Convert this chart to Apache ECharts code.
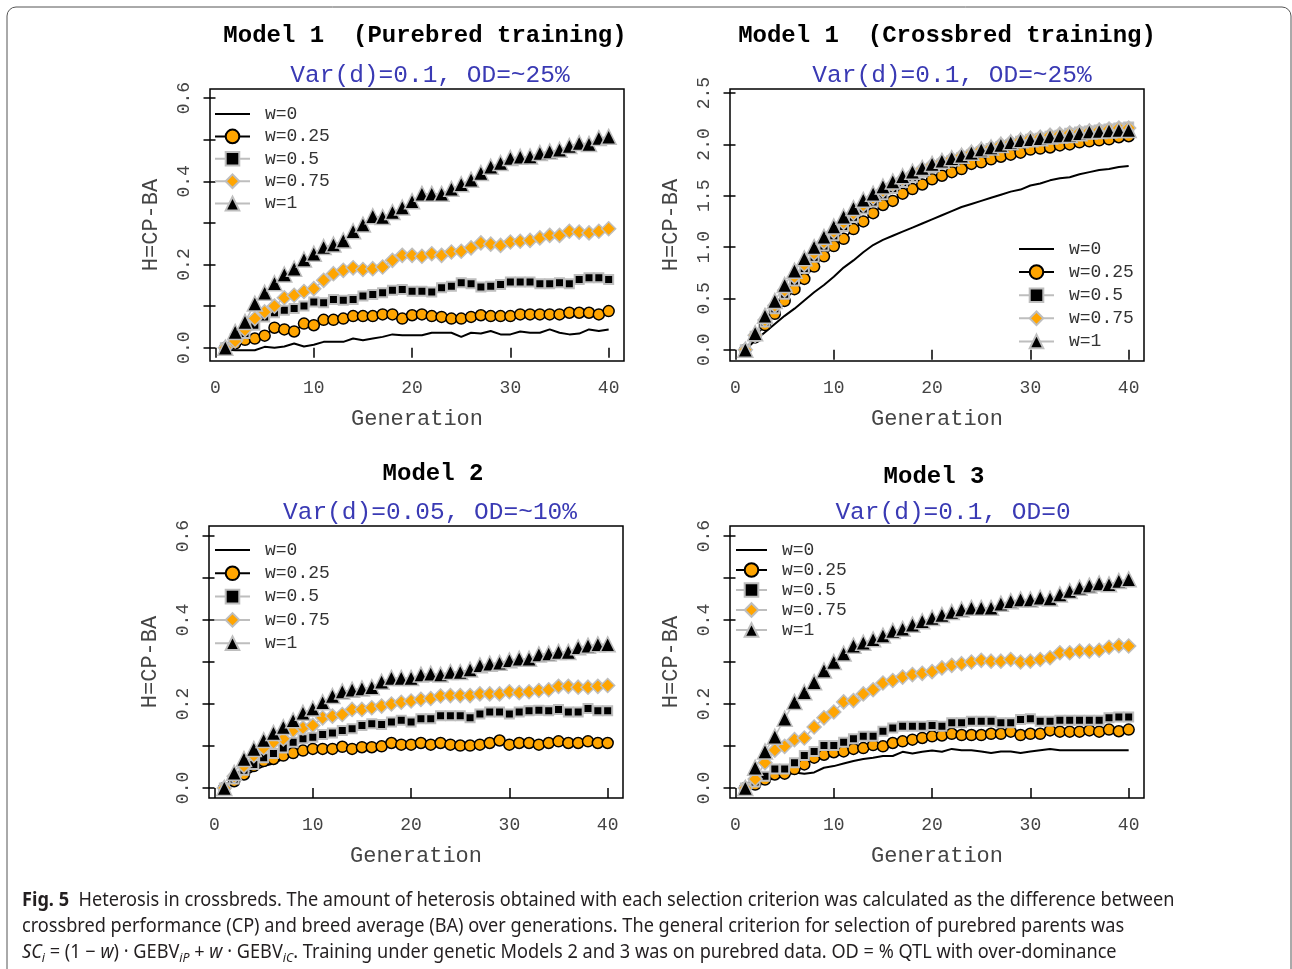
<!DOCTYPE html>
<html>
<head>
<meta charset="utf-8">
<style>
html, body { margin: 0; padding: 0; background: #fff; }
#main { width: 1292px; height: 969px; }
</style>
<script src="https://cdn.jsdelivr.net/npm/echarts@6/dist/echarts.min.js"></script>
</head>
<body>
<div id="main"></div>
<script>
// generations 1..40
const GENS = [1,2,3,4,5,6,7,8,9,10,11,12,13,14,15,16,17,18,19,20,21,22,23,24,25,26,27,28,29,30,31,32,33,34,35,36,37,38,39,40];
const SERIES_NAMES = ['w=0', 'w=0.25', 'w=0.5', 'w=0.75', 'w=1'];

// tick values
const X_TICKS = [0, 10, 20, 30, 40];
const Y_TICKS_SMALL = [0, 0.1, 0.2, 0.3, 0.4, 0.5, 0.6];
const Y_LABELS_SMALL = [0, 0.2, 0.4, 0.6];
const Y_TICKS_CROSS = [0, 0.5, 1, 1.5, 2, 2.5];

// Model 1 (Purebred training)
const pureW0 = [-0.005,-0.006,-0.006,-0.006,0.002,0,0.003,0.01,0.003,0.007,0.014,0.014,0.014,0.022,0.018,0.022,0.026,0.032,0.03,0.03,0.03,0.036,0.036,0.036,0.026,0.036,0.034,0.04,0.032,0.032,0.039,0.036,0.036,0.044,0.036,0.032,0.034,0.044,0.04,0.044];
const pureW025 = [0,0.01,0.019,0.022,0.029,0.048,0.044,0.039,0.058,0.054,0.067,0.067,0.07,0.076,0.076,0.076,0.08,0.08,0.07,0.078,0.08,0.076,0.074,0.07,0.07,0.074,0.078,0.076,0.076,0.076,0.08,0.08,0.08,0.08,0.08,0.084,0.084,0.084,0.08,0.088];
const pureW05 = [0,0.022,0.034,0.054,0.074,0.084,0.09,0.094,0.1,0.11,0.108,0.116,0.114,0.116,0.124,0.128,0.132,0.138,0.14,0.136,0.136,0.134,0.144,0.148,0.156,0.154,0.146,0.148,0.152,0.158,0.158,0.158,0.154,0.154,0.156,0.154,0.164,0.168,0.168,0.164];
const pureW075 = [0,0.016,0.043,0.07,0.086,0.1,0.12,0.126,0.135,0.142,0.162,0.178,0.186,0.192,0.188,0.19,0.194,0.21,0.222,0.222,0.22,0.226,0.222,0.23,0.232,0.24,0.252,0.249,0.246,0.254,0.256,0.258,0.264,0.27,0.27,0.28,0.278,0.276,0.28,0.286];
const pureW1 = [0,0.038,0.062,0.106,0.132,0.155,0.176,0.19,0.212,0.226,0.242,0.248,0.258,0.28,0.296,0.316,0.314,0.326,0.337,0.352,0.37,0.37,0.37,0.382,0.393,0.404,0.42,0.435,0.444,0.456,0.459,0.46,0.468,0.472,0.476,0.485,0.492,0.49,0.504,0.507];

// Model 1 (Crossbred training)
const crossW0 = [0,0.09,0.17,0.25,0.33,0.40,0.48,0.56,0.63,0.71,0.80,0.87,0.95,1.02,1.07,1.11,1.15,1.19,1.23,1.27,1.31,1.35,1.39,1.42,1.45,1.48,1.51,1.54,1.56,1.60,1.62,1.65,1.67,1.68,1.71,1.73,1.75,1.76,1.78,1.79];
const crossW025 = [0,0.12,0.24,0.35,0.475,0.59,0.69,0.81,0.91,1.01,1.08,1.175,1.25,1.33,1.41,1.45,1.52,1.565,1.61,1.66,1.695,1.73,1.76,1.81,1.826,1.855,1.88,1.90,1.92,1.95,1.96,1.97,1.99,2.00,2.02,2.03,2.04,2.05,2.07,2.08];
const crossW05 = [0,0.13,0.27,0.40,0.54,0.67,0.79,0.90,1.01,1.11,1.20,1.29,1.37,1.44,1.51,1.57,1.63,1.68,1.73,1.77,1.81,1.84,1.87,1.90,1.93,1.96,1.98,2.00,2.03,2.05,2.06,2.08,2.09,2.11,2.12,2.13,2.14,2.15,2.16,2.17];
const crossW075 = [0,0.14,0.29,0.43,0.58,0.71,0.83,0.94,1.05,1.15,1.24,1.33,1.41,1.48,1.55,1.61,1.66,1.71,1.76,1.80,1.83,1.86,1.89,1.92,1.95,1.97,2.00,2.02,2.04,2.06,2.07,2.09,2.10,2.11,2.12,2.13,2.14,2.15,2.16,2.16];
const crossW1 = [0,0.16,0.33,0.475,0.63,0.77,0.89,1.00,1.10,1.20,1.295,1.38,1.46,1.52,1.59,1.64,1.69,1.735,1.77,1.81,1.84,1.865,1.89,1.92,1.95,1.97,1.995,2.02,2.04,2.05,2.06,2.077,2.087,2.093,2.11,2.125,2.13,2.135,2.14,2.14];

// Model 2
const m2W0 = [0,0.014,0.028,0.042,0.052,0.058,0.07,0.078,0.085,0.09,0.09,0.09,0.095,0.09,0.094,0.095,0.097,0.104,0.1,0.1,0.104,0.1,0.104,0.1,0.098,0.098,0.1,0.104,0.11,0.1,0.104,0.104,0.1,0.104,0.108,0.104,0.104,0.108,0.104,0.104];
const m2W025 = [0,0.016,0.032,0.052,0.064,0.069,0.077,0.083,0.089,0.093,0.093,0.093,0.098,0.093,0.097,0.097,0.099,0.107,0.103,0.103,0.107,0.103,0.107,0.103,0.101,0.101,0.103,0.107,0.113,0.103,0.107,0.107,0.103,0.107,0.111,0.107,0.107,0.111,0.107,0.107];
const m2W05 = [0,0.021,0.042,0.056,0.072,0.082,0.095,0.109,0.117,0.121,0.127,0.131,0.137,0.141,0.149,0.153,0.151,0.157,0.161,0.157,0.165,0.165,0.172,0.172,0.172,0.167,0.176,0.181,0.181,0.176,0.181,0.184,0.185,0.184,0.187,0.181,0.181,0.189,0.184,0.184];
const m2W075 = [0,0.028,0.052,0.077,0.095,0.109,0.117,0.137,0.143,0.149,0.167,0.171,0.175,0.187,0.187,0.191,0.195,0.2,0.204,0.207,0.211,0.213,0.219,0.22,0.22,0.22,0.224,0.224,0.224,0.229,0.227,0.229,0.232,0.234,0.242,0.242,0.24,0.24,0.242,0.244];
const m2W1 = [0,0.036,0.069,0.093,0.114,0.131,0.145,0.161,0.179,0.189,0.204,0.219,0.23,0.234,0.237,0.24,0.253,0.262,0.262,0.262,0.27,0.272,0.27,0.276,0.276,0.282,0.292,0.296,0.298,0.304,0.308,0.308,0.318,0.32,0.324,0.324,0.335,0.339,0.342,0.342];

// Model 3
const m3W0 = [0,0.008,0.016,0.024,0.029,0.037,0.034,0.037,0.048,0.052,0.058,0.064,0.069,0.072,0.076,0.076,0.086,0.082,0.086,0.089,0.086,0.093,0.09,0.09,0.087,0.083,0.087,0.087,0.083,0.087,0.09,0.093,0.09,0.09,0.09,0.09,0.09,0.09,0.09,0.09];
const m3W025 = [0,0.008,0.02,0.032,0.034,0.045,0.056,0.072,0.079,0.085,0.087,0.093,0.095,0.102,0.099,0.107,0.111,0.115,0.119,0.123,0.125,0.129,0.126,0.126,0.126,0.129,0.129,0.134,0.126,0.129,0.129,0.137,0.134,0.134,0.134,0.137,0.134,0.139,0.135,0.139];
const m3W05 = [0,0.014,0.028,0.045,0.045,0.06,0.077,0.087,0.101,0.101,0.109,0.117,0.123,0.123,0.135,0.143,0.147,0.147,0.147,0.149,0.147,0.155,0.155,0.159,0.159,0.159,0.155,0.155,0.163,0.165,0.159,0.159,0.161,0.161,0.161,0.161,0.161,0.167,0.169,0.169];
const m3W075 = [0,0.021,0.06,0.09,0.099,0.115,0.119,0.145,0.167,0.181,0.205,0.208,0.224,0.234,0.25,0.256,0.264,0.27,0.273,0.277,0.286,0.292,0.296,0.3,0.304,0.302,0.302,0.306,0.3,0.302,0.306,0.31,0.322,0.322,0.326,0.326,0.328,0.335,0.339,0.338];
const m3W1 = [0,0.048,0.087,0.122,0.165,0.205,0.228,0.252,0.28,0.3,0.32,0.339,0.346,0.354,0.363,0.374,0.379,0.389,0.397,0.405,0.412,0.419,0.425,0.429,0.429,0.429,0.439,0.445,0.449,0.449,0.453,0.451,0.461,0.469,0.477,0.482,0.487,0.485,0.493,0.497];

const MONO = '"Liberation Mono", "DejaVu Sans Mono", monospace';
const ORANGE = '#ffa500';
const GRAY = '#bebebe';

// look of each w series (R style pch 21/22/23/24)
const looks = [
    { symbol: 'none', size: 0, fill: '#000', border: '#000', bw: 0, line: '#000', lw: 2 },
    { symbol: 'circle', size: 11, fill: ORANGE, border: '#000', bw: 1.5, line: '#000', lw: 1.5 },
    { symbol: 'rect', size: 9, fill: '#000', border: GRAY, bw: 2, line: GRAY, lw: 1.5 },
    { symbol: 'diamond', size: 14, fill: ORANGE, border: GRAY, bw: 1.5, line: GRAY, lw: 1.5 },
    { symbol: 'triangle', size: 15, fill: '#000', border: GRAY, bw: 1.5, line: GRAY, lw: 1.5 }
];

const panels = [
    { title: 'Model 1  (Purebred training)', sub: 'Var(d)=0.1, OD=~25%', tx: 425, ty: 36, sx: 430, sy: 76,
      grid: { left: 210, top: 89, width: 414, height: 272 }, ymin: -0.032, ymax: 0.622,
      yTicks: Y_TICKS_SMALL, yLabels: Y_LABELS_SMALL,
      legend: { left: 214, top: 105, gap: 4.4 }, rows: [pureW0, pureW025, pureW05, pureW075, pureW1] },
    { title: 'Model 1  (Crossbred training)', sub: 'Var(d)=0.1, OD=~25%', tx: 947, ty: 36, sx: 952, sy: 76,
      grid: { left: 730, top: 89, width: 414, height: 272 }, ymin: -0.11, ymax: 2.54,
      yTicks: Y_TICKS_CROSS, yLabels: Y_TICKS_CROSS,
      legend: { left: 1018, top: 240, gap: 5.1 }, rows: [crossW0, crossW025, crossW05, crossW075, crossW1] },
    { title: 'Model 2', sub: 'Var(d)=0.05, OD=~10%', tx: 433, ty: 474, sx: 430, sy: 513,
      grid: { left: 209, top: 526, width: 414, height: 272 }, ymin: -0.024, ymax: 0.624,
      yTicks: Y_TICKS_SMALL, yLabels: Y_LABELS_SMALL,
      legend: { left: 214, top: 541, gap: 5.3 }, rows: [m2W0, m2W025, m2W05, m2W075, m2W1] },
    { title: 'Model 3', sub: 'Var(d)=0.1, OD=0', tx: 934, ty: 477, sx: 953, sy: 513,
      grid: { left: 730, top: 526, width: 414, height: 272 }, ymin: -0.024, ymax: 0.624,
      yTicks: Y_TICKS_SMALL, yLabels: Y_LABELS_SMALL,
      legend: { left: 735, top: 541, gap: 2, iw: 31 }, rows: [m3W0, m3W025, m3W05, m3W075, m3W1] }
];

let grids = [], xAxes = [], yAxes = [], legends = [], series = [], graphics = [];

panels.map(function(p, i){
    grids.push(Object.assign({ show: true, borderColor: '#000', borderWidth: 1.5, backgroundColor: 'transparent' }, p.grid));

    xAxes.push({
        type: 'value', gridIndex: i, min: -0.56, max: 41.56, offset: 2,
        axisLine: { show: false },
        axisTick: { show: true, length: 10, customValues: X_TICKS, lineStyle: { color: '#000', width: 1.5 } },
        axisLabel: { customValues: X_TICKS, margin: 16, fontFamily: MONO, fontSize: 18, color: '#444' },
        splitLine: { show: false },
        name: 'Generation', nameLocation: 'middle', nameGap: 45,
        nameTextStyle: { fontFamily: MONO, fontSize: 22, color: '#444' }
    });

    yAxes.push({
        type: 'value', gridIndex: i, min: p.ymin, max: p.ymax,
        axisLine: { show: false },
        axisTick: { show: true, length: 12, customValues: p.yTicks, lineStyle: { color: '#000', width: 1.5 } },
        axisLabel: { customValues: p.yLabels, rotate: 90, margin: 17, fontFamily: MONO, fontSize: 18, color: '#444',
            formatter: (v)=> (+v).toFixed(1) },
        splitLine: { show: false },
        name: 'H=CP-BA', nameLocation: 'middle', nameGap: 48, nameRotate: 90,
        nameTextStyle: { fontFamily: MONO, fontSize: 22, color: '#444' }
    });

    legends.push({
        orient: 'vertical', left: p.legend.left, top: p.legend.top, itemGap: p.legend.gap, padding: 0,
        itemWidth: p.legend.iw || 35, itemHeight: 17, selectedMode: false,
        // w=0 is a plain line, hide the symbol in its key
        data: [{ name: SERIES_NAMES[0], itemStyle: { opacity: 0 } }].concat(SERIES_NAMES.slice(1)),
        textStyle: { fontFamily: MONO, fontSize: 18, lineHeight: 18, color: '#333', padding: [0, 0, 0, 10] }
    });

    p.rows.map(function(row, k){
        const lk = looks[k];
        series.push({
            type: 'line', name: SERIES_NAMES[k], xAxisIndex: i, yAxisIndex: i,
            data: GENS.map((g, n)=> [g, row[n]]),
            symbol: lk.symbol, symbolSize: lk.size, showSymbol: lk.symbol !== 'none',
            itemStyle: { color: lk.fill, borderColor: lk.border, borderWidth: lk.bw },
            lineStyle: { color: lk.line, width: lk.lw },
            emphasis: { disabled: true }, silent: true
        });
    });

    // panel titles
    graphics.push({ type: 'text', x: p.tx, y: p.ty, style: { text: p.title, fontFamily: MONO, fontWeight: 'bold', fontSize: 24, fill: '#000', align: 'center', verticalAlign: 'middle' } });
    graphics.push({ type: 'text', x: p.sx, y: p.sy, style: { text: p.sub, fontFamily: MONO, fontSize: 24.5, fill: '#3a3ab4', align: 'center', verticalAlign: 'middle' } });
});

// frame round the figure
graphics.push({ type: 'rect', shape: { x: 7, y: 7, width: 1284, height: 1000, r: 9 }, style: { fill: 'none', stroke: '#555', lineWidth: 1 }, z: -1 });

// caption
const CAP_FONT = '"Noto Sans", "Liberation Sans", sans-serif';
const capRich = {
    b: { fontFamily: CAP_FONT, fontWeight: 'bold', fontSize: 19, fill: '#231f20' },
    it: { fontFamily: CAP_FONT, fontStyle: 'italic', fontSize: 19, fill: '#231f20' },
    sub: { fontFamily: CAP_FONT, fontStyle: 'italic', fontSize: 13, fill: '#231f20', padding: [10, 0, 0, 0] }
};
const capLines = [
    '{b|Fig. 5}  Heterosis in crossbreds. The amount of heterosis obtained with each selection criterion was calculated as the difference between',
    'crossbred performance (CP) and breed average (BA) over generations. The general criterion for selection of purebred parents was',
    '{it|SC}{sub|i} = (1 \u2212 {it|w}) \u00b7 GEBV{sub|iP} + {it|w} \u00b7 GEBV{sub|iC}. Training under genetic Models 2 and 3 was on purebred data. OD = % QTL with over-dominance'
];
const capY = [901, 927, 953];
capLines.map(function(t, i){
    graphics.push({ type: 'text', x: 22, y: capY[i], scaleX: 0.955,
        style: { text: t, rich: capRich, fontFamily: CAP_FONT, fontSize: 19, fill: '#231f20', verticalAlign: 'middle' } });
});

const chart = echarts.init(document.getElementById('main'), null, { renderer: 'canvas' });
chart.setOption({
    animation: false,
    backgroundColor: '#fff',
    grid: grids, xAxis: xAxes, yAxis: yAxes, legend: legends, series: series,
    graphic: graphics
});
</script>
</body>
</html>
